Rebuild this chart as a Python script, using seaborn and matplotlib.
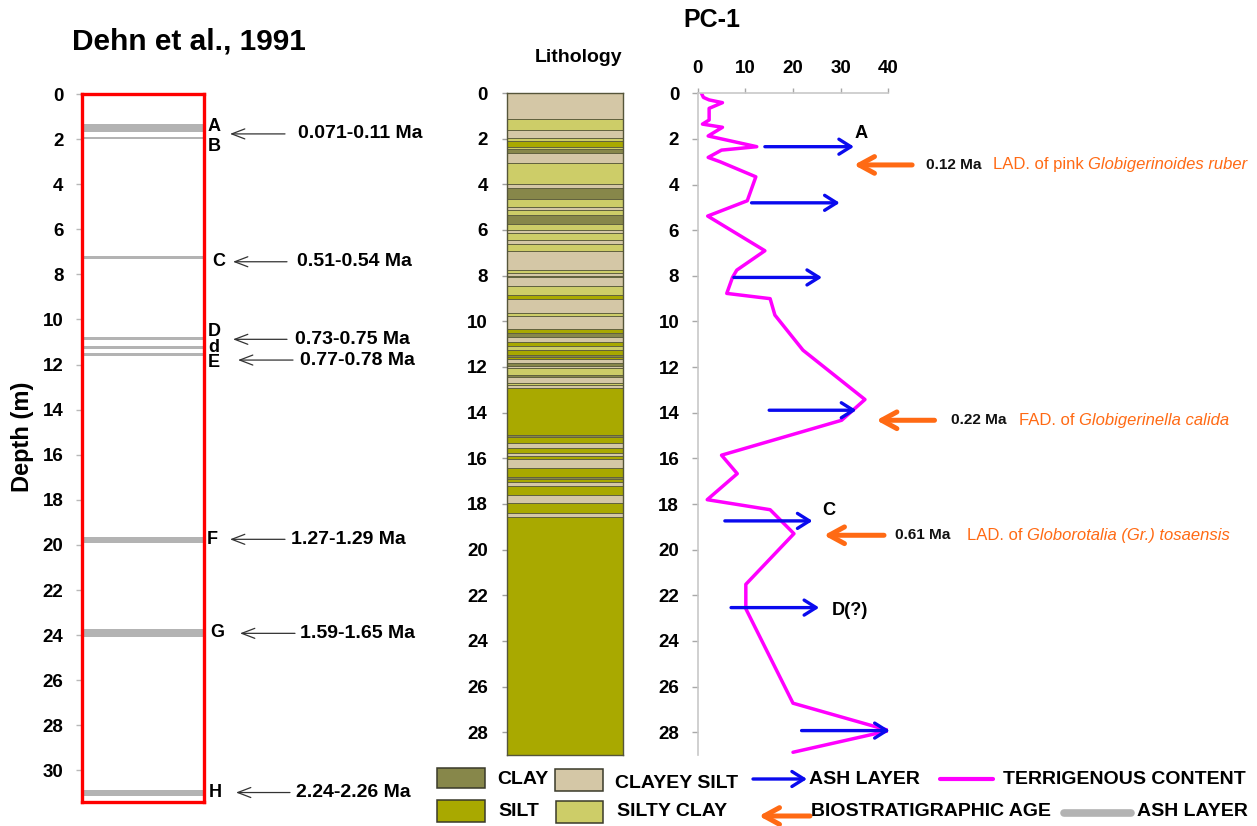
import numpy as np
import pandas as pd
import matplotlib
matplotlib.use("Agg")
import matplotlib.pyplot as plt
import seaborn as sns
from matplotlib import font_manager as fm
from matplotlib.patches import Rectangle
from matplotlib.lines import Line2D
from matplotlib.transforms import blended_transform_factory as btf

# ---------------- data ----------------
# Dehn et al., 1991 ash layers (depth m)
ash_top = [1.33, 1.89, 7.17, 10.78, 11.17, 11.47, 19.66, 23.74, 30.86]
ash_bottom = [1.70, 2.00, 7.30, 10.92, 11.29, 11.60, 19.92, 24.07, 31.13]
ash_letters = ["A", "B", "C", "D", "d", "E", "F", "G", "H"]
ash_ages = ["0.071-0.11 Ma", "0.51-0.54 Ma", "0.73-0.75 Ma", "0.77-0.78 Ma",
            "1.27-1.29 Ma", "1.59-1.65 Ma", "2.24-2.26 Ma"]
ash_age_depth = [1.77, 7.44, 10.88, 11.80, 19.75, 23.92, 30.98]

# PC-1 lithology (boundaries in m, type of each interval)
lith_bounds = [0.0, 1.14, 1.62, 1.99, 2.10, 2.35, 2.45, 2.64, 3.05, 4.00, 4.17,
               4.66, 4.98, 5.12, 5.34, 5.75, 6.00, 6.15, 6.44, 6.62, 6.90, 7.75,
               7.90, 8.00, 8.07, 8.45, 8.85, 9.04, 9.62, 9.77, 10.35, 10.53,
               10.68, 10.89, 11.10, 11.25, 11.46, 11.55, 11.65, 11.84, 11.96,
               12.06, 12.35, 12.42, 12.69, 12.79, 12.93, 14.98, 15.08, 15.34,
               15.56, 15.78, 15.90, 16.05, 16.44, 16.80, 16.92, 17.02, 17.21,
               17.61, 17.94, 18.41, 18.56, 29.0]
lith_types = ["CS", "SC", "CS", "SC", "SI", "SC", "CL", "CS", "SC", "CS",
              "CL", "SC", "CS", "SC", "CL", "SC", "CS", "SC", "CS", "SC",
              "CS", "SC", "CS", "CL", "CS", "SC", "SI", "CS", "SC", "CS",
              "SI", "CL", "CS", "SI", "SC", "SI", "CL", "SI", "CS", "CL",
              "CS", "SC", "CL", "CS", "SC", "CS", "SI", "CL", "SI", "CS",
              "SI", "CS", "SI", "CS", "SI", "CL", "SI", "CS", "SI", "CS",
              "SI", "CS", "SI"]

# Terrigenous content (%) vs depth (m)
terr_value = [0.8, 1.2, 2.4, 5.2, 2.4, 2.4, 1.0, 5.2, 2.2, 12.4, 5.0, 2.2, 4.7,
              12.2, 10.4, 2.1, 14.1, 8.2, 7.3, 6.1, 15.2, 16.2, 22.1, 35.1,
              30.2, 5.0, 8.3, 2.0, 15.2, 20.2, 10.1, 10.1, 20.0, 40.2, 20.0]
terr_depth = [0.0, 0.18, 0.29, 0.41, 0.66, 1.17, 1.35, 1.49, 1.87, 2.34, 2.49,
              2.81, 3.00, 3.66, 4.71, 5.38, 6.90, 7.75, 8.07, 8.77, 9.00, 9.72,
              11.26, 13.42, 14.33, 15.86, 16.67, 17.81, 18.25, 19.30, 21.52,
              22.59, 26.73, 27.93, 28.88]

# PC-1 ash layers (blue arrows)
pc_ash_depth = [2.34, 4.80, 8.07, 13.89, 18.74, 22.54, 27.93]
pc_ash_from = [14.1, 11.3, 7.6, 15.0, 5.7, 7.0, 21.8]
pc_ash_to = [32.8, 29.8, 26.1, 33.3, 24.1, 25.5, 40.3]
pc_ash_label = ["A", "", "", "", "C", "D(?)", ""]

# Biostratigraphic ages (orange arrows)
bio_depth = [3.14, 14.33, 19.37]
bio_from = [45.0, 49.7, 39.1]
bio_to = [32.8, 37.5, 26.5]
bio_age = ["0.12 Ma", "0.22 Ma", "0.61 Ma"]
bio_event = ["LAD. of pink", "FAD. of", "LAD. of"]
bio_species = ["Globigerinoides ruber", "Globigerinella calida",
               "Globorotalia (Gr.) tosaensis"]

legend_labels = ["CLAY", "CLAYEY SILT", "ASH LAYER", "TERRIGENOUS CONTENT",
                 "SILT", "SILTY CLAY", "BIOSTRATIGRAPHIC AGE", "ASH LAYER"]

# ---------------- style ----------------
lith_colors = {"CL": "#87874a", "SI": "#a9a900", "CS": "#d4c7a6", "SC": "#cdcd68"}
MAGENTA, BLUE, ORANGE, GRAY = "#ff00ff", "#0a0aee", "#ff6a14", "#b3b3b3"

sns.set_theme(style="white")
plt.rcParams["font.family"] = ["Liberation Sans", "DejaVu Sans"]
plt.rcParams["font.weight"] = "bold"
plt.rcParams["text.color"] = "black"
plt.rcParams["xtick.labelcolor"] = "black"
plt.rcParams["ytick.labelcolor"] = "black"

names = {f.name for f in fm.fontManager.ttflist}
if "Liberation Sans Narrow" in names:
    NARROW, NS, NSO = ["Liberation Sans Narrow", "DejaVu Sans"], 1.0, 1.0
else:
    NARROW, NS, NSO = ["Liberation Sans", "DejaVu Sans"], 0.85, 0.92

W, H = 1257, 826
fig = plt.figure(figsize=(W / 100, H / 100), dpi=100)


def axes_px(l, t, r, b, **kw):
    return fig.add_axes([l / W, 1 - b / H, (r - l) / W, (b - t) / H], **kw)


ov = fig.add_axes([0, 0, 1, 1], zorder=5)
ov.set_xlim(0, W)
ov.set_ylim(H, 0)
ov.axis("off")
ov.patch.set_visible(False)

# ---------------- left panel ----------------
axL = axes_px(82, 94, 204, 802)
axL.barh(ash_top, 1, height=np.array(ash_bottom) - np.array(ash_top), left=0,
         align="edge", color=GRAY, linewidth=0, zorder=1)
axL.set_xlim(0, 1)
axL.set_ylim(31.4, 0)
for s in axL.spines.values():
    s.set_visible(True)
    s.set_color("#ff0000")
    s.set_linewidth(2.4)
    s.set_zorder(3)
axL.set_xticks([])
axL.set_yticks(range(0, 31, 2))
axL.tick_params(axis="y", left=True, direction="out", length=4.3, width=1,
                color="#b8b8b8", labelcolor="black", pad=9, labelsize=13.5)
trL = btf(ov.transData, axL.transData)
letter_x = [208, 208, 212, 208, 208, 208, 207, 210, 209]
letter_y = [1.46, 2.31, 7.45, 10.54, 11.26, 11.93, 19.78, 23.9, 31.0]
for lt, lx, ly in zip(ash_letters, letter_x, letter_y):
    ov.text(lx, ly, lt, transform=trL, ha="left", va="center", fontsize=13,
            fontweight="bold", color="black")
head_x = [230, 233, 233, 238, 230, 240, 236]
tail_x = [285, 287, 287, 293, 285, 295, 290]
text_x = [298, 297, 295, 300, 291, 300, 296]
for age, d, hx, tx, lx in zip(ash_ages, ash_age_depth, head_x, tail_x, text_x):
    ov.annotate("", xy=(hx, d), xycoords=trL, xytext=(tx, d), textcoords=trL,
                arrowprops=dict(arrowstyle="->,head_length=0.47,head_width=0.18",
                                lw=0.9, color="#333333", shrinkA=0, shrinkB=0,
                                mutation_scale=20), annotation_clip=False)
    ov.text(lx, d, age, transform=trL, ha="left", va="center", fontsize=14,
            fontweight="bold", color="black")

fig.text(72 / W, 1 - 42 / H, "Dehn et al., 1991", ha="left", va="center",
         fontsize=21.5, fontweight="bold", color="black")
fig.text(22 / W, 1 - 437 / H, "Depth (m)", rotation=90, ha="center", va="center",
         fontsize=17, fontweight="bold", color="black")

# ---------------- lithology ----------------
axM = axes_px(507, 93, 623, 755)
tops = np.array(lith_bounds[:-1])
heights = np.diff(lith_bounds)
axM.barh(tops, 1, height=heights, left=0, align="edge",
         color=[lith_colors[t] for t in lith_types], edgecolor="#62623f",
         linewidth=0.7)
axM.set_xlim(0, 1)
axM.set_ylim(29, 0)
for s in axM.spines.values():
    s.set_visible(True)
    s.set_color("#55553a")
    s.set_linewidth(1.0)
axM.set_xticks([])
axM.set_yticks(range(0, 29, 2))
axM.tick_params(axis="y", left=True, direction="out", length=3.6, width=1,
                color="#a0a0a0", labelcolor="black", pad=10, labelsize=13.5)
fig.text(535 / W, 1 - 57 / H, "Lithology", ha="left", va="center", fontsize=14,
         fontweight="bold", color="black")
fig.text(712 / W, 1 - 20 / H, "PC-1", ha="center", va="center", fontsize=18,
         fontweight="bold", color="black")

# ---------------- terrigenous content ----------------
axR = axes_px(697.7, 93.3, 888.3, 755)
df = pd.DataFrame({"terr": terr_value, "depth": terr_depth})
sns.lineplot(data=df, x="terr", y="depth", sort=False, estimator=None,
             orient="y", color=MAGENTA, lw=2.5, ax=axR)
axR.set_xlim(0, 40)
axR.set_ylim(29, 0)
axR.set_xlabel("")
axR.set_ylabel("")
for k in ["bottom", "right"]:
    axR.spines[k].set_visible(False)
for k in ["left", "top"]:
    axR.spines[k].set_visible(True)
    axR.spines[k].set_color("#c8c8c8")
    axR.spines[k].set_linewidth(1.2)
axR.set_xticks(range(0, 41, 10))
axR.set_yticks(range(0, 29, 2))
axR.xaxis.tick_top()
axR.tick_params(axis="x", top=True, bottom=False, labeltop=True,
                labelbottom=False, direction="out", length=3.6, width=1,
                color="#a8a8a8", labelcolor="black", pad=8, labelsize=13.5)
axR.tick_params(axis="y", left=True, direction="out", length=4.3, width=1,
                color="#a8a8a8", labelcolor="black", pad=9, labelsize=13.5)

blue_style = "->,head_length=0.43,head_width=0.27"
for d, x0, x1, lab in zip(pc_ash_depth, pc_ash_from, pc_ash_to, pc_ash_label):
    axR.annotate("", xy=(x1, d), xytext=(x0, d),
                 arrowprops=dict(arrowstyle=blue_style, lw=2.4, color=BLUE,
                                 shrinkA=0, shrinkB=0, mutation_scale=20),
                 annotation_clip=False)
label_pos = {"A": (33.0, 1.76), "C": (26.1, 18.3), "D(?)": (28.1, 22.65)}
for lab, (lx, ly) in label_pos.items():
    axR.text(lx, ly, lab, ha="left", va="center", fontsize=15.5 * NS,
             family=NARROW, fontweight="bold", color="black", clip_on=False)

orange_style = "->,head_length=0.55,head_width=0.3"
age_x = [47.9, 53.2, 41.4]
event_x = [61.9, 67.4, 56.5]
for d, x0, x1, age, ev, sp, ax_, ex_ in zip(bio_depth, bio_from, bio_to, bio_age,
                                             bio_event, bio_species, age_x, event_x):
    axR.annotate("", xy=(x1, d), xytext=(x0, d),
                 arrowprops=dict(arrowstyle=orange_style, lw=3.6, color=ORANGE,
                                 shrinkA=0, shrinkB=0, mutation_scale=20),
                 annotation_clip=False)
    axR.annotate(age, xy=(ax_, d), ha="left", va="center", fontsize=13 * NS,
                 family=NARROW, fontweight="bold", color="#111111",
                 annotation_clip=False)
    t1 = axR.annotate(ev, xy=(ex_, d), ha="left", va="center", fontsize=13 * NSO,
                      family=NARROW, fontweight="normal", color=ORANGE,
                      annotation_clip=False)
    axR.annotate(sp, xy=(1, 0), xycoords=t1, xytext=(3.4, 0),
                 textcoords="offset points", ha="left", va="bottom",
                 fontsize=13 * NSO, family=NARROW, fontweight="normal",
                 fontstyle="italic", color=ORANGE, annotation_clip=False)

# ---------------- legend ----------------
def box(l, t, r, b, c):
    ov.add_patch(Rectangle((l, t), r - l, b - t, facecolor=c, edgecolor="#3a3a2a",
                           lw=1.1))


def ltxt(x, y, s):
    ov.text(x, y, s, ha="left", va="center", fontsize=14, fontweight="bold",
            color="black")


box(437, 768, 485, 788, lith_colors["CL"])
ltxt(497, 780, legend_labels[0])
box(555, 769, 603, 791, lith_colors["CS"])
ltxt(615, 783, legend_labels[1])
ov.annotate("", xy=(807, 779), xytext=(753, 779),
            arrowprops=dict(arrowstyle=blue_style, lw=2.4, color=BLUE, shrinkA=0,
                            shrinkB=0, mutation_scale=20))
ltxt(809, 780, legend_labels[2])
ov.add_line(Line2D([940, 993], [779, 779], color=MAGENTA, lw=3.0))
ltxt(1003, 780, legend_labels[3])
box(437, 800, 485, 822, lith_colors["SI"])
ltxt(498, 812, legend_labels[4])
box(556, 801, 603, 823, lith_colors["SC"])
ltxt(617, 812, legend_labels[5])
ov.annotate("", xy=(759, 816), xytext=(810, 816),
            arrowprops=dict(arrowstyle=orange_style, lw=3.6, color=ORANGE,
                            shrinkA=0, shrinkB=0, mutation_scale=20))
ltxt(811, 812, legend_labels[6])
ov.add_line(Line2D([1064, 1131], [813, 813], color=GRAY, lw=5.5))
ltxt(1137, 811, legend_labels[7])

fig.savefig("out.png", dpi=100)
